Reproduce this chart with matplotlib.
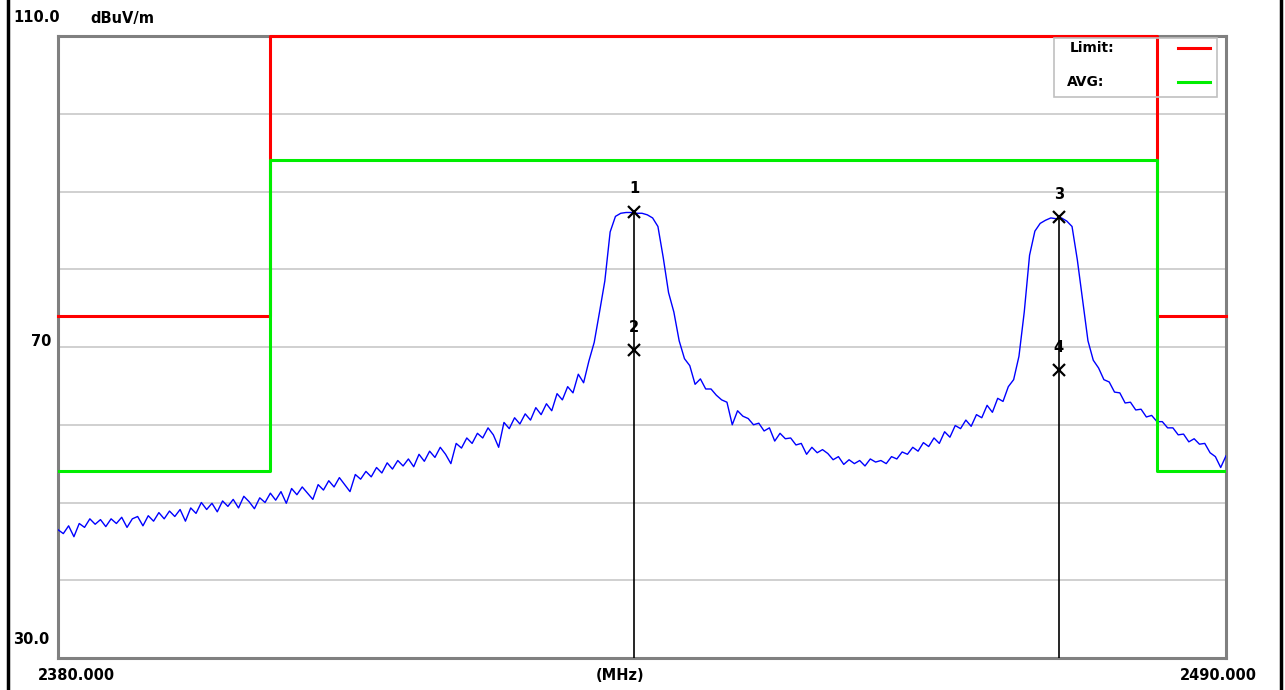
import numpy as np
import matplotlib
matplotlib.use("Agg")
import matplotlib.pyplot as plt
from matplotlib.patches import Rectangle

# trace, 0.5 MHz step from 2380 to 2490
f_start = 2380.0
f_stop = 2490.0
f_step = 0.5
level = [
  46.5, 46.0, 47.0, 45.6, 47.3, 46.8, 47.9, 47.2, 47.8, 46.9,
  47.9, 47.3, 48.1, 46.8, 47.9, 48.2, 47.0, 48.3, 47.6, 48.7,
  47.9, 48.9, 48.2, 49.1, 47.6, 49.3, 48.6, 50.0, 49.1, 49.9,
  48.8, 50.2, 49.5, 50.4, 49.3, 50.8, 50.1, 49.2, 50.6, 50.0,
  51.2, 50.3, 51.4, 49.9, 51.8, 51.0, 52.0, 51.2, 50.4, 52.3,
  51.6, 52.8, 52.0, 53.2, 52.3, 51.4, 53.6, 53.0, 54.0, 53.3,
  54.5, 53.8, 55.1, 54.3, 55.4, 54.7, 55.6, 54.6, 56.2, 55.3,
  56.6, 55.8, 57.1, 56.2, 55.0, 57.6, 57.0, 58.3, 57.6, 58.9,
  58.3, 59.6, 58.7, 57.1, 60.3, 59.5, 60.9, 60.1, 61.4, 60.6,
  62.2, 61.3, 62.7, 61.8, 64.0, 63.2, 64.9, 64.1, 66.5, 65.4,
  68.2, 70.6, 74.5, 78.5, 84.8, 86.8, 87.2, 87.3, 87.3, 87.2,
  87.2, 87.0, 86.6, 85.5, 81.5, 77.0, 74.5, 70.8, 68.5, 67.6,
  65.2, 65.9, 64.6, 64.6, 63.8, 63.2, 62.9, 60.0, 61.8, 61.1,
  60.8, 60.0, 60.2, 59.2, 59.6, 57.9, 58.9, 58.2, 58.3, 57.4,
  57.6, 56.2, 57.1, 56.4, 56.8, 56.3, 55.5, 55.9, 54.9, 55.5,
  55.0, 55.4, 54.7, 55.6, 55.2, 55.4, 55.0, 55.9, 55.6, 56.5,
  56.2, 57.1, 56.6, 57.7, 57.2, 58.3, 57.6, 59.1, 58.4, 59.9,
  59.5, 60.6, 59.8, 61.3, 60.9, 62.5, 61.6, 63.4, 63.0, 64.9,
  65.8, 68.8, 74.5, 81.8, 84.9, 85.9, 86.3, 86.6, 86.5, 86.6,
  86.2, 85.5, 81.2, 76.0, 70.8, 68.3, 67.3, 65.8, 65.5, 64.2,
  64.1, 62.8, 62.9, 61.9, 62.0, 61.0, 61.2, 60.4, 60.4, 59.6,
  59.6, 58.7, 58.8, 57.8, 58.2, 57.5, 57.6, 56.4, 55.9, 54.5,
  56.0,
]
freq = np.arange(len(level)) * f_step + f_start

# limit lines
lim_freq = [2380, 2400, 2400, 2483.5, 2483.5, 2490]
lim_peak = [74, 74, 110, 110, 74, 74]
lim_avg = [54, 54, 94, 94, 54, 54]

# markers
mk_label = ["1", "2", "3", "4"]
mk_freq = [2434.25, 2434.25, 2474.25, 2474.25]
mk_level = [87.4, 69.6, 86.7, 67.0]

fig = plt.figure(figsize=(12.85, 6.9), dpi=100)
ax = fig.add_axes([58/1285, 1-658/690, (1226-58)/1285, (658-36)/690])

ax.set_xlim(f_start, f_stop)
ax.set_ylim(30, 110)
ax.set_yticks(np.arange(30, 111, 10))
ax.set_xticks([])
ax.tick_params(left=False, labelleft=False)
ax.grid(True, axis="y", color="#c8c8c8", lw=1.2)
for s in ax.spines.values():
  s.set_color("#808080")
  s.set_linewidth(2.2)

ax.plot(lim_freq, lim_peak, color="#ff0000", lw=2.2, clip_on=False, zorder=4)
ax.plot(lim_freq, lim_avg, color="#00ee00", lw=2.2, zorder=4)
ax.plot(freq, level, color="#0000ff", lw=1.0, zorder=3)

# marker lines down to the bottom
ax.vlines([mk_freq[0], mk_freq[2]], 30, [mk_level[0], mk_level[2]], color="black", lw=1.2, zorder=5)
for lab, fx, ly in zip(mk_label, mk_freq, mk_level):
  ax.plot(fx, ly, marker="x", color="black", ms=8, mew=1.6, zorder=6)
  ax.annotate(lab, (fx, ly), xytext=(0, 11), textcoords="offset points",
              ha="center", va="bottom", fontsize=10.5, fontweight="bold", zorder=6)

# legend box
fig.patches.append(Rectangle((1054/1285, 1-97/690), (1217-1054)/1285, (97-38)/690,
                             transform=fig.transFigure, fill=False, ec="#c0c0c0", lw=1.2, zorder=1))
fig.text(1070/1285, 1-48/690, "Limit:", fontsize=10, fontweight="bold", va="center")
fig.text(1067/1285, 1-82/690, "AVG:", fontsize=10, fontweight="bold", va="center")
fig.add_artist(plt.Line2D([1178/1285, 1210/1285], [1-48/690, 1-48/690], color="#ff0000", lw=2.2))
fig.add_artist(plt.Line2D([1178/1285, 1210/1285], [1-82/690, 1-82/690], color="#00ee00", lw=2.2))

# axis texts
fig.text(13/1285, 1-18/690, "110.0", fontsize=10.5, fontweight="bold", va="center")
fig.text(90/1285, 1-18/690, "dBuV/m", fontsize=10.5, fontweight="bold", va="center")
fig.text(51/1285, 1-342/690, "70", fontsize=10.5, fontweight="bold", va="center", ha="right")
fig.text(13/1285, 1-640/690, "30.0", fontsize=10.5, fontweight="bold", va="center")
fig.text(38/1285, 1-675/690, "2380.000", fontsize=10.5, fontweight="bold", va="center")
fig.text(620/1285, 1-675/690, "(MHz)", fontsize=10.5, fontweight="bold", va="center", ha="center")
fig.text(1257/1285, 1-675/690, "2490.000", fontsize=10.5, fontweight="bold", va="center", ha="right")

# outer frame
fig.add_artist(plt.Line2D([8/1285, 8/1285], [0, 1], color="black", lw=2.5))
fig.add_artist(plt.Line2D([1281/1285, 1281/1285], [0, 1], color="black", lw=2.5))

fig.savefig("out.png", dpi=100)
